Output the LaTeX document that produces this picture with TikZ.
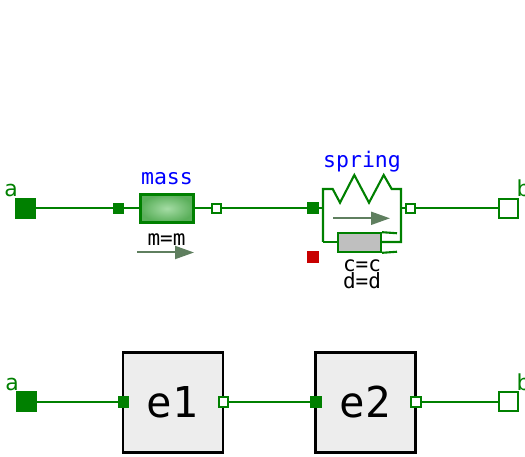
\documentclass[tikz,border=0pt]{standalone}
\usepackage{fontspec}
\setmainfont{DejaVu Sans Mono}
\newfontfamily\portfont{DejaVu Sans}
\usetikzlibrary{arrows.meta}
\definecolor{portgreen}{RGB}{0,128,0}
\definecolor{flowgray}{RGB}{95,127,95}
\definecolor{heatred}{RGB}{200,0,0}
\definecolor{massin}{RGB}{165,220,165}
\definecolor{massout}{RGB}{90,175,90}
\begin{document}
\begin{tikzpicture}[
  x=1pt, y=-1pt,
  pfill/.style={rectangle, draw=portgreen, fill=portgreen, line width=1pt, inner sep=0pt, minimum size=#1},
  popen/.style={rectangle, draw=portgreen, fill=white, line width=2pt, inner sep=0pt, minimum size=#1},
  e/.style={draw=portgreen, line width=2pt},
  sp/.style={draw=portgreen, line width=2.1pt},
  blk/.style={rectangle, draw=black, fill=black!7, line width=2.2pt, inner sep=0pt, minimum size=100pt},
  flow/.style={draw=flowgray, line width=2pt, -{Triangle[length=19pt,width=13pt]}},
  lblport/.style={font=\portfont\fontsize{22}{22}\selectfont, text=portgreen, anchor=base, inner sep=0pt},
  lblname/.style={font=\fontsize{21.5}{21.5}\selectfont, text=blue, anchor=base, inner sep=0pt},
  lblpar/.style={font=\fontsize{21}{21}\selectfont, text=black, anchor=base, inner sep=0pt},
  lblblk/.style={font=\fontsize{42.5}{42.5}\selectfont, text=black, anchor=base, inner sep=0pt}
]
\useasboundingbox (0,0) rectangle (525,457);

% --- upper row: ports ---
\node[pfill=20pt] (aT) at (25.5,208.5) {};
\node[popen=19pt] (bT) at (508,208.5) {};
\node[pfill=10pt] (mIn) at (118,208.5) {};
\node[popen=9pt] (mOut) at (216,208.5) {};
\node[pfill=11pt] (sIn) at (313,208.5) {};
\node[popen=9.5pt] (sOut) at (410.5,208.5) {};
\node[rectangle, fill=heatred, inner sep=0pt, minimum size=12pt] (heat) at (313,257) {};

% --- mass ---
\node[rectangle, draw=portgreen, line width=2.2pt, inner color=massin, outer color=massout, inner sep=0pt, minimum width=53pt, minimum height=28pt] (mass) at (167,208.5) {};

% --- spring ---
\coordinate (sL) at (323,208.5);
\coordinate (sR) at (401,208.5);
\draw[sp] (323,242) -- (323,189) -- (332.7,189) -- (340,202.7) -- (354.3,175) -- (369,202.7) -- (383.7,175) -- (391.7,189) -- (401,189) -- (401,242) -- (381,242);
\draw[sp] (323,242) -- (338,242);
\node[rectangle, draw=portgreen, fill=black!25, line width=2.1pt, inner sep=0pt, minimum width=43pt, minimum height=18.5pt] (damper) at (359.5,242.5) {};
\coordinate (dT) at (397,233.25);
\coordinate (dB) at (397,251.75);
\draw[sp] (damper.north east) -- (dT);
\draw[sp] (damper.south east) -- (dB);
\coordinate (fsA) at (333,218.3);
\coordinate (fsB) at (390,218.3);
\draw[flow] (fsA) -- (fsB);

% --- upper row: connectors ---
\draw[e] (aT) -- (mIn);
\draw[e] (mIn) -- (mass);
\draw[e] (mass) -- (mOut);
\draw[e] (mOut) -- (sIn);
\draw[e] (sIn) -- (sL);
\draw[e] (sR) -- (sOut);
\draw[e] (sOut) -- (bT);

% --- mass arrow ---
\coordinate (fmA) at (137,252.5);
\coordinate (fmB) at (194,252.5);
\draw[flow] (fmA) -- (fmB);

% --- upper row: labels ---
\node[lblport] (aTl) at (11,197) {a};
\node[lblport] (bTl) at (523.5,197) {b};
\node[lblname] (massl) at (167,185) {mass};
\node[lblname] (springl) at (362,167.5) {spring};
\node[lblpar] (ml) at (166.5,246) {m=m};
\node[lblpar] (cl) at (362,272) {c=c};
\node[lblpar] (dl) at (362,289) {d=d};

% --- lower row: blocks ---
\node[blk] (e1) at (173,402.5) {};
\node[blk] (e2) at (365.5,402.5) {};
\node[lblblk] (e1l) at (172.5,417.5) {e1};
\node[lblblk] (e2l) at (365.5,417.5) {e2};

% --- lower row: ports ---
\node[pfill=20pt] (aB) at (26.5,401.8) {};
\node[popen=19pt] (bB) at (508,401.8) {};
\node[pfill=10.5pt] (e1In) at (123.5,401.8) {};
\node[popen=9.5pt] (e1Out) at (223.5,401.8) {};
\node[pfill=10.5pt] (e2In) at (316,401.8) {};
\node[popen=9.5pt] (e2Out) at (416,401.8) {};

% --- lower row: connectors ---
\draw[e] (aB) -- (e1In);
\draw[e] (e1Out) -- (e2In);
\draw[e] (e2Out) -- (bB);

% --- lower row: labels ---
\node[lblport] (aBl) at (12,390) {a};
\node[lblport] (bBl) at (523.5,390) {b};

\end{tikzpicture}
\end{document}
